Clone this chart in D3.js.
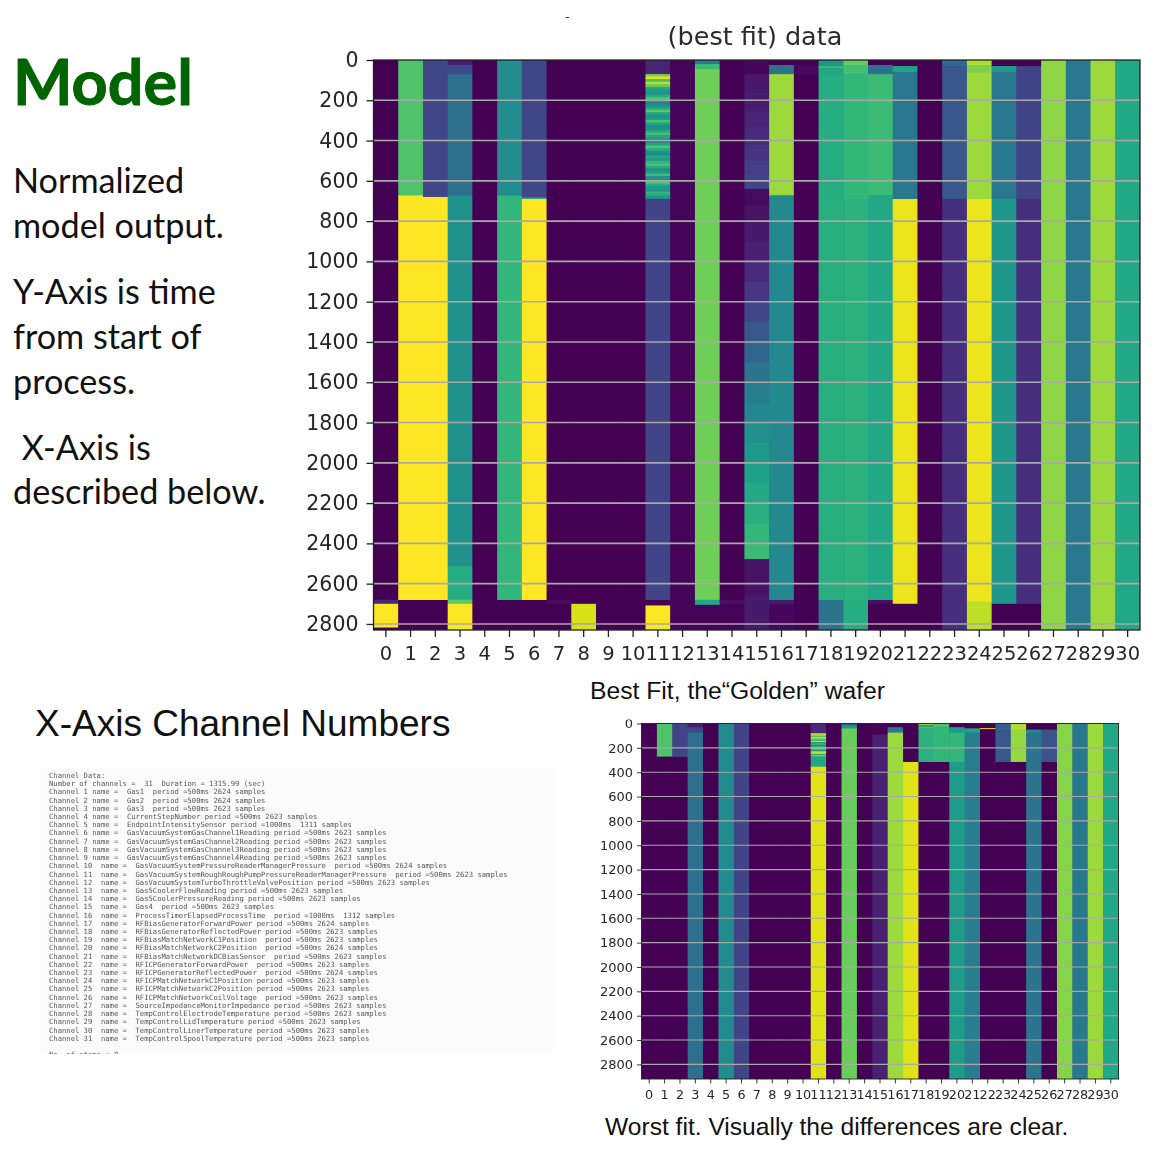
<!DOCTYPE html>
<html><head><meta charset="utf-8">
<script src="https://cdn.jsdelivr.net/npm/d3@7"></script>
<style>
html,body{margin:0;padding:0;background:#fff}
svg{display:block}
text{white-space:pre}
</style></head><body>
<svg id="c" width="1175" height="1164"></svg>
<script>
const channels = d3.range(31);
const yTicks = d3.range(0, 2801, 200);

// Column-by-column: segment end (value along time axis) and normalized level.
const bestEnds = [
 [2680,2700,2818,2830],[672,2681,2830],[680,2681,2830],[25,70,672,2512,2680,2700,2830],[2830],
 [672,2681,2830],[682,690,2681,2830],[2681,2700,2830],[2700,2830],[2830],
 [2830],[70,690,2681,2708,2830],[2830],[20,45,2680,2705,2830],[2681,2700,2830],
 [70,160,250,330,420,500,570,640,720,800,900,1000,1100,1200,1300,1400,1500,1600,1700,1800,1900,2000,2100,2200,2300,2400,2478,2660,2830],
 [25,70,672,2681,2700,2830],[25,70,2830],[30,40,70,690,2681,2830],[25,70,690,2681,2830],
 [25,70,672,2681,2700,2830],[30,60,690,2700,2830],[2830],[30,690,2830],[25,60,690,2690,2830],
 [30,60,690,2700,2830],[30,690,2700,2830],[2830],[2830],[2830],[2830]
];
const bestLevels = [
 [0,.12,1,0],[.72,1,0],[.21,1,0],[.08,.22,.36,.5,.62,.75,1],[0],
 [.48,.66,0],[.21,.6,1,0],[0,.03,0],[0,.94],[0],
 [0],[.1,null,.2,0,1],[.01],[.4,.68,.78,.6,.01],[0,.04,.01],
 [.02,.06,.08,.1,.12,.15,.18,.2,.03,.05,.07,.09,.12,.16,.21,.27,.33,.38,.42,.46,.5,.54,.57,.6,.63,.66,.68,.05,.07],
 [0,.38,.85,.47,.07,.02],[0,.02,0],[.52,.68,.6,.62,.63,.38],[.76,.7,.66,.64,.62],
 [0,.36,.68,.6,.04,0],[0,.58,.4,.97,0],[0],[.33,.27,.14],[.88,.8,.85,.97,.9],
 [0,.55,.4,.53,0],[0,.2,.14,0],[.83],[.4],[.85],[.6]
];
const bestStripes = [.8,.96,.7,.9,.78,.6,.55,.5,.62,.72,.55,.45,.5,.62,.74,.6,.5,.55,.7,.58,.48,.5,.62,.7,.6,.5,.46,.58,.72,.62,.5,.48,.6,.55,.66,.72,.62,.5,.55,.68,.5,.48,.72,.62,.55,.52,.66,.6,.5];

const worstEnds = [
 [2925],[272,2925],[275,2925],[30,75,2925],[2925],[2925],[2925],[2925],[2925],[2925],[2925],
 [78,270,355,2925],[2925],[15,40,2925],[2925],[90,2925],[30,75,2925],[316,2925],
 [10,30,40,316,2925],[30,316,2925],[30,75,316,2925],[40,75,2925],[38,46,2925],
 [50,316,2925],[50,316,2925],[50,75,2925],[50,316,2925],[2925],[2925],[2925],[2925]
];
const worstLevels = [
 [0],[.72,0],[.2,0],[.08,.22,.36],[0],[.48],[.2],[0],[0],[0],[0],
 [.12,null,.6,.95],[0],[.3,.55,.77],[0],[.01,.09],[0,.4,.85],[0,.95],
 [.9,.58,.75,.64,0],[.72,.66,0],[0,.55,.66,.55],[0,.58,.42],[0,.98,0],
 [.3,.27,0],[.88,.84,0],[0,.48,.38],[0,.25,0],[.82],[.4],[.85],[.6]
];
const worstStripes = [.8,.95,.7,.9,.85,.6,.92,.5,.72,.45,.62,.9,.7,.55,.88,.95,.6,.82];

const channelLines = [
 "Channel Data:",
 "Number of channels =  31  Duration = 1315.99 (sec)",
 "Channel 1 name =  Gas1  period =500ms 2624 samples",
 "Channel 2 name =  Gas2  period =500ms 2624 samples",
 "Channel 3 name =  Gas3  period =500ms 2623 samples",
 "Channel 4 name =  CurrentStepNumber period =500ms 2623 samples",
 "Channel 5 name =  EndpointIntensitySensor period =1000ms  1311 samples",
 "Channel 6 name =  GasVacuumSystemGasChannel1Reading period =500ms 2623 samples",
 "Channel 7 name =  GasVacuumSystemGasChannel2Reading period =500ms 2623 samples",
 "Channel 8 name =  GasVacuumSystemGasChannel3Reading period =500ms 2623 samples",
 "Channel 9 name =  GasVacuumSystemGasChannel4Reading period =500ms 2623 samples",
 "Channel 10  name =  GasVacuumSystemPressureReaderManagerPressure  period =500ms 2624 samples",
 "Channel 11  name =  GasVacuumSystemRoughRoughPumpPressureReaderManagerPressure  period =500ms 2623 samples",
 "Channel 12  name =  GasVacuumSystemTurboThrottleValvePosition period =500ms 2623 samples",
 "Channel 13  name =  Gas5CoolerFlowReading period =500ms 2623 samples",
 "Channel 14  name =  Gas5CoolerPressureReading period =500ms 2623 samples",
 "Channel 15  name =  Gas4  period =500ms 2623 samples",
 "Channel 16  name =  ProcessTimerElapsedProcessTime  period =1000ms  1312 samples",
 "Channel 17  name =  RFBiasGeneratorForwardPower period =500ms 2624 samples",
 "Channel 18  name =  RFBiasGeneratorReflectedPower period =500ms 2623 samples",
 "Channel 19  name =  RFBiasMatchNetworkC1Position  period =500ms 2623 samples",
 "Channel 20  name =  RFBiasMatchNetworkC2Position  period =500ms 2624 samples",
 "Channel 21  name =  RFBiasMatchNetworkDCBiasSensor  period =500ms 2623 samples",
 "Channel 22  name =  RFICPGeneratorForwardPower  period =500ms 2623 samples",
 "Channel 23  name =  RFICPGeneratorReflectedPower  period =500ms 2624 samples",
 "Channel 24  name =  RFICPMatchNetworkC1Position period =500ms 2623 samples",
 "Channel 25  name =  RFICPMatchNetworkC2Position period =500ms 2623 samples",
 "Channel 26  name =  RFICPMatchNetworkCoilVoltage  period =500ms 2623 samples",
 "Channel 27  name =  SourceImpedanceMonitorImpedance period =500ms 2623 samples",
 "Channel 28  name =  TempControlElectrodeTemperature period =500ms 2623 samples",
 "Channel 29  name =  TempControlLidTemperature period =500ms 2623 samples",
 "Channel 30  name =  TempControlLinerTemperature period =500ms 2623 samples",
 "Channel 31  name =  TempControlSpoolTemperature period =500ms 2623 samples"
];
const sideText = [
 ["Normalized",13,193],["model output.",13,238],["Y-Axis is time",13,304],["from start of",13,349],
 ["process.",13,394],[" X-Axis is",13,460],["described below.",13,504]
];

const svg = d3.select("#c");
const gridColor = "#a9a9a9";

function heatmap(o){
  const x = d3.scaleBand().domain(channels).range([o.left,o.right]).paddingInner(0).paddingOuter(0);
  const y = d3.scaleLinear().domain([0,o.ymax]).range([o.top,o.bottom]);
  const cells = [];
  channels.forEach(c=>{
    let s = 0;
    o.ends[c].forEach((e,i)=>{
      const lv = o.levels[c][i];
      if(lv===null){
        const st = o.stripes, h=(e-s)/st.length;
        st.forEach((v,k)=>cells.push({c,a:s+k*h,b:s+(k+1)*h,v}));
      } else cells.push({c,a:s,b:e,v:lv});
      s = e;
    });
  });
  const g = svg.append("g");
  const hm = g.append("g").style("filter","blur(0.5px)");
  hm.append("rect").attr("x",o.left).attr("y",o.top).attr("width",o.right-o.left).attr("height",o.bottom-o.top)
    .attr("fill",d3.interpolateViridis(0));
  hm.selectAll("rect.cell").data(cells).join("rect").attr("class","cell")
    .attr("x",d=>x(d.c)).attr("width",d=>x.bandwidth()+(d.c<30?.5:0))
    .attr("y",d=>y(d.a)).attr("height",d=>Math.min(y(d.b)-y(d.a)+.5,o.bottom-y(d.a)))
    .attr("fill",d=>d3.interpolateViridis(d.v));
  g.append("g").selectAll("line").data(yTicks.slice(1)).join("line")
    .attr("x1",o.left).attr("x2",o.right).attr("y1",d=>y(d)).attr("y2",d=>y(d))
    .attr("stroke",gridColor).attr("stroke-width",o.grid);
  const tx = d3.axisBottom(x).tickSize(o.tick).tickPadding(o.padx).tickSizeOuter(0);
  const ay = d3.axisLeft(y).tickValues(yTicks).tickFormat(d3.format("d")).tickSize(o.tick).tickPadding(o.pad);
  const gx = g.append("g").attr("transform",`translate(0,${o.bottom})`).call(tx);
  const gy = g.append("g").attr("transform",`translate(${o.left},0)`).call(ay);
  gx.selectAll("text").attr("font-size",o.fontX);
  gy.selectAll("text").attr("font-size",o.fontY);
  [gx,gy].forEach(a=>{
    a.selectAll("text").attr("font-family","DejaVu Sans").attr("fill","#262626").style("filter","blur(0.3px)");
    a.selectAll("line").attr("stroke","#222").attr("stroke-width",o.tw);
    a.select(".domain").remove();
  });
  g.append("rect").attr("x",o.left).attr("y",o.top).attr("width",o.right-o.left).attr("height",o.bottom-o.top)
    .attr("fill","none").attr("stroke","#222").attr("stroke-width",o.tw);
}

heatmap({left:373.5,right:1140,top:60,bottom:630,ymax:2830,ends:bestEnds,levels:bestLevels,stripes:bestStripes,
  tick:7,pad:8,padx:9,fontX:19.5,fontY:20.5,grid:1.6,tw:1.3});
heatmap({left:641.5,right:1118.5,top:723.5,bottom:1079,ymax:2920,ends:worstEnds,levels:worstLevels,stripes:worstStripes,
  tick:4.5,pad:4,padx:6,fontX:12.8,fontY:13,grid:1.1,tw:.9});
// the second panel's top label is cropped in the source
svg.append("rect").attr("x",615).attr("y",708).attr("width",24).attr("height",11.5).attr("fill","#fff");

function label(t,x,y,fam,size,fill,extra){
  const e = svg.append("text").text(t).attr("x",x).attr("y",y).attr("font-family",fam).attr("font-size",size).attr("fill",fill);
  if(extra) extra(e);
  return e;
}
label("(best fit) data",755,45,"DejaVu Sans",25.5,"#2b2b2b",e=>e.attr("text-anchor","middle").style("filter","blur(0.3px)"));
label("-",565,21,"DejaVu Sans",13,"#333");
label("Model",13,104.5,"Lato",63,"#006400",e=>e.attr("font-weight",700).attr("stroke","#006400").attr("stroke-width",.9));
sideText.forEach(d=>label(d[0],d[1],d[2],"Lato",34.2,"#111"));
label("X-Axis Channel Numbers",35,736,"Liberation Sans",37,"#111");
label("Best Fit, the\u201CGolden\u201D wafer",590,699,"Liberation Sans",24.7,"#111");
label("Worst fit. Visually the differences are clear.",605,1135,"Liberation Sans",24.6,"#111");

svg.append("rect").attr("x",40).attr("y",768).attr("width",513).attr("height",286).attr("fill","#fbfbfb");
const ct = svg.append("g").style("filter","blur(0.35px)");
ct.selectAll("text").data(channelLines).join("text").text(d=>d)
  .attr("x",49).attr("y",(d,i)=>778+i*8.21)
  .attr("font-family","DejaVu Sans Mono").attr("font-size",7.2).attr("fill","#555");
ct.append("text").text("No. of steps = 8").attr("x",49).attr("y",1056.5)
  .attr("font-family","DejaVu Sans Mono").attr("font-size",7.2).attr("fill","#555");
svg.append("rect").attr("x",40).attr("y",1054).attr("width",513).attr("height",8).attr("fill","#fff");
</script></body></html>
